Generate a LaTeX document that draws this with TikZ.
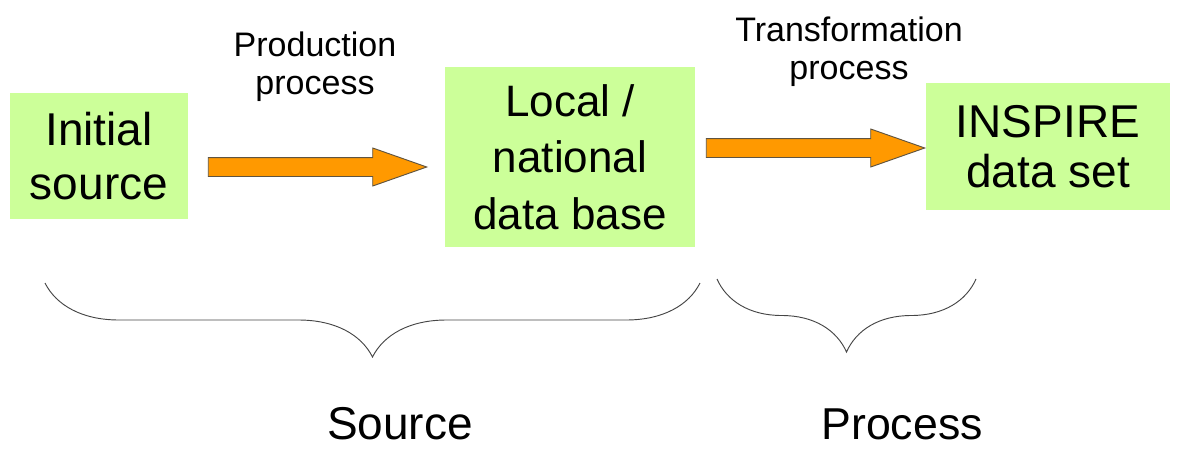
\documentclass[tikz,border=0pt]{standalone}
\usepackage{fontspec}
\setmainfont{Liberation Sans}
\usetikzlibrary{calc,positioning,decorations.pathreplacing}
\definecolor{inLime}{RGB}{204,255,153}
\definecolor{inOrange}{RGB}{255,153,0}
\definecolor{inEdge}{RGB}{96,84,64}
\definecolor{inBrace}{RGB}{70,70,70}
\newcommand{\fatarrow}[2]{%
  \draw[fill=inOrange,draw=inEdge,line width=0.7pt]
    let \p1=(#1), \p2=(#2) in
    (\x1,\y1+7.1pt) -- (\x2-40.5pt,\y1+7.1pt) -- (\x2-40.5pt,\y1+14.25pt)
    -- (\x2,\y1) -- (\x2-40.5pt,\y1-14.25pt) -- (\x2-40.5pt,\y1-7.1pt)
    -- (\x1,\y1-7.1pt) -- cycle;
}

\begin{document}
\begin{tikzpicture}[x=0.75pt,y=-0.75pt,
    stagebox/.style={fill=inLime,draw=none,align=center,inner sep=0pt},
    steplabel/.style={align=center,inner sep=0pt,
      font=\fontsize{25.5}{28.5}\selectfont},
    grouplabel/.style={anchor=base,inner sep=0pt},
    bracket/.style={decorate,draw=inBrace,line width=0.7pt}]
  \useasboundingbox (0,0) rectangle (1189,450);
  % stages
  \node[stagebox,minimum width=133.5pt,minimum height=94.5pt,
    font=\fontsize{34.5}{40.5}\selectfont] (init) at (99,156) {Initial\\source};
  \node[stagebox,minimum width=187.5pt,minimum height=135pt,
    font=\fontsize{33}{42.4}\selectfont] (local) at (570,157) {Local /\\national\\data base};
  \node[stagebox,minimum width=183pt,minimum height=95.25pt,
    font=\fontsize{34.5}{37.5}\selectfont] (inspire) at (1048,146.5) {INSPIRE\\data set};
  % arrows between stages
  \coordinate (prodA) at ($(init.east)+(20,11)$);
  \coordinate (prodB) at ($(local.west)+(-18,10)$);
  \coordinate (transA) at ($(local.east)+(11,-9)$);
  \coordinate (transB) at ($(inspire.west)+(-1,1.5)$);
  \fatarrow{prodA}{prodB}
  \fatarrow{transA}{transB}
  \node[steplabel] (prodlabel) at (315,67) {Production\\process};
  \node[steplabel] (translabel) at (849,52) {Transformation\\process};
  % groups
  \coordinate (srcL) at (45,283);
  \coordinate (srcR) at (700,283);
  \coordinate (procL) at (717,279);
  \coordinate (procR) at (976,279);
  \draw[bracket,decoration={brace,mirror,amplitude=55.5pt}] (srcL) -- (srcR);
  \draw[bracket,decoration={brace,mirror,amplitude=54.75pt}] (procL) -- (procR);
  \node[grouplabel,font=\fontsize{34.5}{40}\selectfont] (srclabel) at (400,439) {Source};
  \node[grouplabel,font=\fontsize{33.5}{40}\selectfont] (proclabel) at (902,439) {Process};
\end{tikzpicture}
\end{document}
